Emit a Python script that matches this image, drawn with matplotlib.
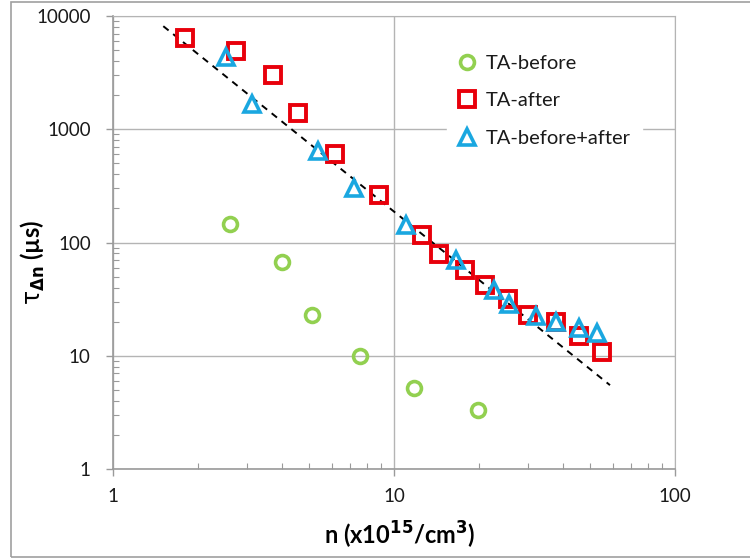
import matplotlib
matplotlib.use('Agg')
import matplotlib.pyplot as plt
from matplotlib.patches import Rectangle
from matplotlib.ticker import LogLocator, NullFormatter, FixedFormatter, FixedLocator

plt.rcParams['font.family'] = ['Lato', 'DejaVu Sans']
plt.rcParams['mathtext.fontset'] = 'dejavusans'

# lifetime vs injection level, x in 1e15 cm^-3, tau in us
n_before = [2.61, 3.99, 5.11, 7.57, 11.8, 19.9]
tau_before = [145, 67, 23, 9.9, 5.15, 3.35]

n_after = [1.81, 2.74, 3.70, 4.57, 6.18, 8.87, 12.55, 14.5, 17.9, 21.1,
           25.4, 30.1, 37.6, 45.7, 55.1]
tau_after = [6400, 4900, 3000, 1390, 600, 261, 116, 79, 56.7, 42.4,
             31.6, 22.9, 19.7, 14.9, 10.8]

n_both = [2.52, 3.12, 5.38, 7.22, 11.0, 16.6, 22.7, 25.7, 31.9, 37.7,
          45.7, 52.6]
tau_both = [4360, 1656, 645, 300, 142, 70, 38, 28.6, 22.4, 19.8,
            17.5, 16.0]

# power-law guide line end points
fit_n = [1.51, 58.7]
fit_tau = [8130, 5.5]

x_ticks = [1, 10, 100]
x_labels = ['1', '10', '100']
y_ticks = [1, 10, 100, 1000, 10000]
y_labels = ['1', '10', '100', '1000', '10000']

grid_gray = '#b4b4b4'
spine_gray = '#9a9a9a'

fig = plt.figure(figsize=(7.5, 5.59), dpi=100)
ax = fig.add_axes([113 / 750, 1 - 469 / 559, 562 / 750, 453 / 559])

ax.set_xscale('log')
ax.set_yscale('log')
ax.set_xlim(1, 100)
ax.set_ylim(1, 10000)

ax.plot(fit_n, fit_tau, linestyle=(0, (3.5, 3)), color='black', lw=1.4,
        zorder=2)

ax.plot(n_before, tau_before, 'o', ms=10, mfc='none', mec='#92d050',
        mew=2.6, linestyle='', label='TA-before', zorder=3)
ax.plot(n_after, tau_after, 's', ms=11, mfc='none', mec='#e8000b',
        mew=2.8, linestyle='', label='TA-after', zorder=3)
ax.plot(n_both, tau_both, '^', ms=11.5, mfc='none', mec='#1aa7e0',
        mew=2.6, linestyle='', label='TA-before+after', zorder=4)

ax.xaxis.set_major_locator(FixedLocator(x_ticks))
ax.xaxis.set_major_formatter(FixedFormatter(x_labels))
ax.yaxis.set_major_locator(FixedLocator(y_ticks))
ax.yaxis.set_major_formatter(FixedFormatter(y_labels))
ax.xaxis.set_minor_locator(LogLocator(base=10, subs=range(2, 10)))
ax.yaxis.set_minor_locator(LogLocator(base=10, subs=range(2, 10)))
ax.xaxis.set_minor_formatter(NullFormatter())
ax.yaxis.set_minor_formatter(NullFormatter())

ax.tick_params(which='major', direction='out', length=5, width=1,
               color=spine_gray, labelsize=13.5, labelcolor='#1a1a1a')
ax.tick_params(which='minor', direction='in', length=4, width=0.8,
               color=spine_gray)
ax.tick_params(axis='y', which='major', pad=11)
ax.tick_params(axis='x', which='major', pad=9)

ax.grid(True, which='major', color=grid_gray, lw=1)
for side in ['top', 'right']:
    ax.spines[side].set_color(grid_gray)
for side in ['left', 'bottom']:
    ax.spines[side].set_color(spine_gray)
    ax.spines[side].set_linewidth(1.2)

ax.set_xlabel(r'n (x10$^{\mathbf{15}}$/cm$^{\mathbf{3}}$)', fontsize=17,
              fontweight='bold')
ax.set_ylabel(r'$\mathrm{\tau}_{\mathbf{\Delta n}}$ (µs)', fontsize=17,
              fontweight='bold')
ax.xaxis.set_label_coords((400 - 113) / 562, (469 - 520) / 453)
ax.yaxis.set_label_coords((47 - 113) / 562, (469 - 262) / 453)

leg = ax.legend(loc='upper left', bbox_to_anchor=(437 / 750, 1 - 33 / 559),
                bbox_transform=fig.transFigure, numpoints=1, fontsize=14.5,
                handlelength=0.8, handletextpad=0.5, labelspacing=1.0,
                borderpad=0.6, frameon=True, fancybox=False)
leg.get_frame().set_facecolor('white')
leg.get_frame().set_edgecolor('white')
leg.get_frame().set_alpha(1)
for t in leg.get_texts():
    t.set_color('#1a1a1a')

# chart frame
fig.patches.append(Rectangle((11 / 750, 2 / 559), 760 / 750, 555 / 559,
                             transform=fig.transFigure, fill=False,
                             edgecolor='#a0a0a0', lw=1.2))

fig.savefig('out.png', dpi=100)
